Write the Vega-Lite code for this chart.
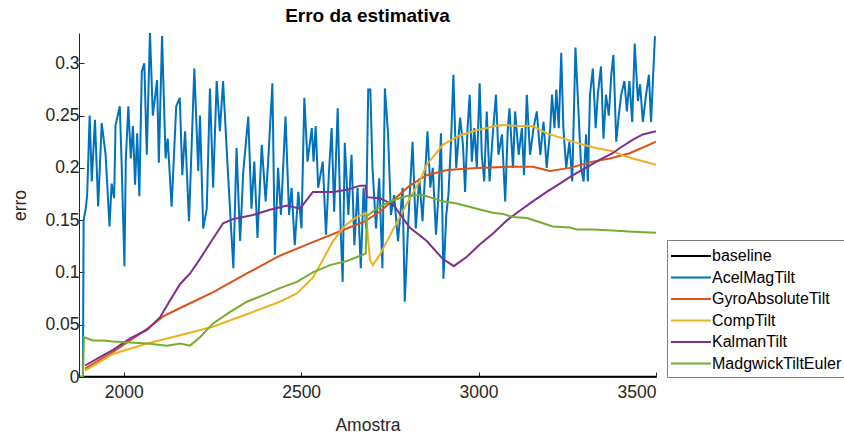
{
  "$schema": "https://vega.github.io/schema/vega-lite/v6.json",
  "width": 577,
  "height": 344,
  "autosize": {"type": "none"},
  "padding": {"left": 79, "top": 33, "right": 188, "bottom": 60},
  "background": "#ffffff",
  "title": {"text": "Erro da estimativa", "fontSize": 19, "fontWeight": "bold", "font": "Liberation Sans", "color": "#000000", "offset": 7, "anchor": "middle"},
  "datasets": {
    "baseline": [{"x": 1874, "y": 0}, {"x": 3500, "y": 0}],
    "acel": [
      {"x":1885,"y":0},{"x":1887,"y":0.15},{"x":1893,"y":0.161},{"x":1897,"y":0.174},{"x":1904,"y":0.25},{"x":1910,"y":0.187},{"x":1919,"y":0.246},{"x":1928,"y":0.163},{"x":1938,"y":0.243},{"x":1949,"y":0.2125},{"x":1960,"y":0.144},{"x":1966,"y":0.185},{"x":1973,"y":0.171},{"x":1977,"y":0.241},{"x":1989,"y":0.259},{"x":1994,"y":0.206},{"x":2002,"y":0.106},{"x":2006,"y":0.209},{"x":2013,"y":0.259},{"x":2020,"y":0.209},{"x":2026,"y":0.24},{"x":2032,"y":0.184},{"x":2038,"y":0.233},{"x":2044,"y":0.173},{"x":2051,"y":0.292},{"x":2058,"y":0.30},{"x":2065,"y":0.2125},{"x":2074,"y":0.33},{"x":2082,"y":0.25},{"x":2094,"y":0.284},{"x":2099,"y":0.205},{"x":2108,"y":0.326},{"x":2118,"y":0.209},{"x":2124,"y":0.228},{"x":2135,"y":0.163},{"x":2148,"y":0.259},{"x":2158,"y":0.267},{"x":2165,"y":0.193},{"x":2173,"y":0.235},{"x":2184,"y":0.149},{"x":2199,"y":0.295},{"x":2210,"y":0.197},{"x":2215,"y":0.25},{"x":2224,"y":0.142},{"x":2234,"y":0.161},{"x":2243,"y":0.276},{"x":2252,"y":0.181},{"x":2262,"y":0.283},{"x":2271,"y":0.235},{"x":2280,"y":0.283},{"x":2293,"y":0.20},{"x":2309,"y":0.104},{"x":2318,"y":0.219},{"x":2328,"y":0.13},{"x":2337,"y":0.197},{"x":2351,"y":0.249},{"x":2360,"y":0.161},{"x":2368,"y":0.206},{"x":2377,"y":0.133},{"x":2389,"y":0.222},{"x":2400,"y":0.168},{"x":2407,"y":0.206},{"x":2419,"y":0.281},{"x":2426,"y":0.117},{"x":2435,"y":0.20},{"x":2443,"y":0.155},{"x":2456,"y":0.249},{"x":2466,"y":0.155},{"x":2473,"y":0.181},{"x":2482,"y":0.126},{"x":2492,"y":0.177},{"x":2501,"y":0.142},{"x":2509,"y":0.267},{"x":2518,"y":0.206},{"x":2530,"y":0.238},{"x":2535,"y":0.206},{"x":2541,"y":0.24},{"x":2548,"y":0.181},{"x":2561,"y":0.206},{"x":2570,"y":0.136},{"x":2579,"y":0.20},{"x":2586,"y":0.238},{"x":2593,"y":0.158},{"x":2603,"y":0.257},{"x":2612,"y":0.136},{"x":2617,"y":0.091},{"x":2623,"y":0.224},{"x":2633,"y":0.155},{"x":2642,"y":0.2125},{"x":2650,"y":0.126},{"x":2659,"y":0.181},{"x":2668,"y":0.104},{"x":2676,"y":0.181},{"x":2683,"y":0.142},{"x":2689,"y":0.275},{"x":2695,"y":0.275},{"x":2701,"y":0.20},{"x":2711,"y":0.142},{"x":2720,"y":0.19},{"x":2729,"y":0.104},{"x":2736,"y":0.276},{"x":2745,"y":0.232},{"x":2753,"y":0.155},{"x":2762,"y":0.174},{"x":2773,"y":0.13},{"x":2786,"y":0.181},{"x":2792,"y":0.072},{"x":2802,"y":0.149},{"x":2814,"y":0.225},{"x":2823,"y":0.142},{"x":2833,"y":0.19},{"x":2842,"y":0.149},{"x":2856,"y":0.235},{"x":2864,"y":0.181},{"x":2871,"y":0.20},{"x":2880,"y":0.136},{"x":2887,"y":0.174},{"x":2894,"y":0.233},{"x":2901,"y":0.094},{"x":2909,"y":0.155},{"x":2915,"y":0.174},{"x":2922,"y":0.222},{"x":2929,"y":0.289},{"x":2937,"y":0.20},{"x":2948,"y":0.248},{"x":2956,"y":0.222},{"x":2962,"y":0.177},{"x":2969,"y":0.238},{"x":2975,"y":0.27},{"x":2981,"y":0.206},{"x":2988,"y":0.238},{"x":2995,"y":0.20},{"x":3003,"y":0.281},{"x":3009,"y":0.2125},{"x":3016,"y":0.187},{"x":3023,"y":0.254},{"x":3031,"y":0.187},{"x":3040,"y":0.232},{"x":3049,"y":0.27},{"x":3056,"y":0.2125},{"x":3066,"y":0.232},{"x":3075,"y":0.168},{"x":3082,"y":0.235},{"x":3087,"y":0.257},{"x":3097,"y":0.20},{"x":3103,"y":0.254},{"x":3113,"y":0.2125},{"x":3122,"y":0.238},{"x":3128,"y":0.193},{"x":3136,"y":0.27},{"x":3145,"y":0.2125},{"x":3155,"y":0.238},{"x":3164,"y":0.254},{"x":3174,"y":0.2125},{"x":3183,"y":0.244},{"x":3192,"y":0.20},{"x":3202,"y":0.238},{"x":3207,"y":0.27},{"x":3214,"y":0.238},{"x":3219,"y":0.275},{"x":3226,"y":0.238},{"x":3233,"y":0.31},{"x":3239,"y":0.238},{"x":3247,"y":0.20},{"x":3256,"y":0.225},{"x":3264,"y":0.187},{"x":3273,"y":0.315},{"x":3283,"y":0.244},{"x":3289,"y":0.20},{"x":3296,"y":0.187},{"x":3303,"y":0.232},{"x":3308,"y":0.187},{"x":3314,"y":0.27},{"x":3322,"y":0.295},{"x":3330,"y":0.238},{"x":3336,"y":0.27},{"x":3345,"y":0.297},{"x":3352,"y":0.228},{"x":3359,"y":0.27},{"x":3367,"y":0.25},{"x":3374,"y":0.289},{"x":3380,"y":0.308},{"x":3388,"y":0.225},{"x":3395,"y":0.25},{"x":3402,"y":0.27},{"x":3411,"y":0.283},{"x":3418,"y":0.254},{"x":3425,"y":0.283},{"x":3433,"y":0.244},{"x":3440,"y":0.319},{"x":3449,"y":0.264},{"x":3455,"y":0.28},{"x":3463,"y":0.244},{"x":3472,"y":0.27},{"x":3480,"y":0.289},{"x":3486,"y":0.244},{"x":3497,"y":0.326}
    ],
    "gyro": [
      {"x":1891,"y":0.008},{"x":1970,"y":0.024},{"x":2066,"y":0.046},{"x":2111,"y":0.058},{"x":2159,"y":0.066},{"x":2251,"y":0.081},{"x":2347,"y":0.099},{"x":2440,"y":0.116},{"x":2533,"y":0.129},{"x":2629,"y":0.142},{"x":2674,"y":0.148},{"x":2722,"y":0.158},{"x":2759,"y":0.169},{"x":2806,"y":0.183},{"x":2854,"y":0.193},{"x":2911,"y":0.198},{"x":2995,"y":0.200},{"x":3088,"y":0.201},{"x":3153,"y":0.201},{"x":3201,"y":0.197},{"x":3257,"y":0.200},{"x":3322,"y":0.206},{"x":3370,"y":0.209},{"x":3426,"y":0.214},{"x":3500,"y":0.225}
    ],
    "comp": [
      {"x":1891,"y":0.006},{"x":1970,"y":0.022},{"x":2066,"y":0.032},{"x":2159,"y":0.040},{"x":2251,"y":0.048},{"x":2347,"y":0.060},{"x":2440,"y":0.072},{"x":2488,"y":0.080},{"x":2533,"y":0.095},{"x":2561,"y":0.112},{"x":2590,"y":0.130},{"x":2624,"y":0.145},{"x":2652,"y":0.152},{"x":2682,"y":0.157},{"x":2694,"y":0.112},{"x":2702,"y":0.107},{"x":2722,"y":0.117},{"x":2750,"y":0.135},{"x":2778,"y":0.153},{"x":2806,"y":0.171},{"x":2835,"y":0.188},{"x":2854,"y":0.203},{"x":2899,"y":0.222},{"x":2947,"y":0.231},{"x":2995,"y":0.236},{"x":3060,"y":0.241},{"x":3116,"y":0.240},{"x":3153,"y":0.240},{"x":3192,"y":0.233},{"x":3249,"y":0.227},{"x":3285,"y":0.223},{"x":3330,"y":0.219},{"x":3378,"y":0.216},{"x":3406,"y":0.212},{"x":3435,"y":0.209},{"x":3500,"y":0.203}
    ],
    "kalman": [
      {"x":1891,"y":0.011},{"x":1933,"y":0.019},{"x":1970,"y":0.026},{"x":2018,"y":0.037},{"x":2066,"y":0.045},{"x":2102,"y":0.057},{"x":2130,"y":0.073},{"x":2159,"y":0.089},{"x":2187,"y":0.099},{"x":2215,"y":0.113},{"x":2251,"y":0.132},{"x":2280,"y":0.147},{"x":2308,"y":0.151},{"x":2364,"y":0.155},{"x":2412,"y":0.160},{"x":2460,"y":0.164},{"x":2497,"y":0.161},{"x":2533,"y":0.177},{"x":2590,"y":0.177},{"x":2629,"y":0.179},{"x":2666,"y":0.183},{"x":2682,"y":0.183},{"x":2685,"y":0.172},{"x":2722,"y":0.171},{"x":2759,"y":0.165},{"x":2806,"y":0.143},{"x":2854,"y":0.130},{"x":2899,"y":0.113},{"x":2930,"y":0.106},{"x":2967,"y":0.115},{"x":3004,"y":0.127},{"x":3040,"y":0.137},{"x":3080,"y":0.150},{"x":3116,"y":0.159},{"x":3153,"y":0.168},{"x":3192,"y":0.177},{"x":3229,"y":0.185},{"x":3266,"y":0.193},{"x":3302,"y":0.200},{"x":3342,"y":0.208},{"x":3378,"y":0.214},{"x":3398,"y":0.219},{"x":3435,"y":0.227},{"x":3463,"y":0.232},{"x":3500,"y":0.235}
    ],
    "madgwick": [
      {"x":1876,"y":0},{"x":1885,"y":0},{"x":1888,"y":0.038},{"x":1913,"y":0.035},{"x":1942,"y":0.035},{"x":1970,"y":0.034},{"x":2018,"y":0.033},{"x":2066,"y":0.032},{"x":2122,"y":0.030},{"x":2159,"y":0.032},{"x":2187,"y":0.030},{"x":2215,"y":0.038},{"x":2251,"y":0.051},{"x":2299,"y":0.062},{"x":2347,"y":0.072},{"x":2392,"y":0.078},{"x":2440,"y":0.085},{"x":2488,"y":0.091},{"x":2533,"y":0.100},{"x":2581,"y":0.107},{"x":2629,"y":0.111},{"x":2682,"y":0.118},{"x":2685,"y":0.154},{"x":2722,"y":0.163},{"x":2759,"y":0.169},{"x":2798,"y":0.173},{"x":2843,"y":0.174},{"x":2899,"y":0.168},{"x":2939,"y":0.166},{"x":2995,"y":0.161},{"x":3040,"y":0.157},{"x":3068,"y":0.156},{"x":3097,"y":0.153},{"x":3136,"y":0.152},{"x":3173,"y":0.148},{"x":3209,"y":0.144},{"x":3257,"y":0.143},{"x":3277,"y":0.141},{"x":3322,"y":0.141},{"x":3378,"y":0.140},{"x":3435,"y":0.139},{"x":3500,"y":0.138}
    ]
  },
  "encoding": {
    "x": {"field": "x", "type": "quantitative", "scale": {"domain": [1874, 3500], "nice": false, "zero": false}, "axis": {"values": [2000, 2500, 3000, 3500], "format": "d", "title": "Amostra"}},
    "y": {"field": "y", "type": "quantitative", "scale": {"domain": [0, 0.329], "nice": false}, "axis": {"values": [0, 0.05, 0.1, 0.15, 0.2, 0.25, 0.3], "format": "~g", "title": "erro"}},
    "color": {"field": "s", "type": "nominal", "scale": {"domain": ["baseline", "AcelMagTilt", "GyroAbsoluteTilt", "CompTilt", "KalmanTilt", "MadgwickTiltEuler"], "range": ["#000000", "#0072BD", "#D95319", "#EDB120", "#7E2F8E", "#77AC30"]}, "legend": {"title": null}}
  },
  "layer": [
    {"data": {"name": "baseline"}, "transform": [{"calculate": "'baseline'", "as": "s"}], "mark": {"type": "line", "strokeWidth": 2.5, "clip": true}},
    {"data": {"name": "acel"}, "transform": [{"calculate": "'AcelMagTilt'", "as": "s"}], "mark": {"type": "line", "strokeWidth": 2, "clip": true}},
    {"data": {"name": "gyro"}, "transform": [{"calculate": "'GyroAbsoluteTilt'", "as": "s"}], "mark": {"type": "line", "strokeWidth": 2, "clip": true}},
    {"data": {"name": "comp"}, "transform": [{"calculate": "'CompTilt'", "as": "s"}], "mark": {"type": "line", "strokeWidth": 2, "clip": true}},
    {"data": {"name": "kalman"}, "transform": [{"calculate": "'KalmanTilt'", "as": "s"}], "mark": {"type": "line", "strokeWidth": 2, "clip": true}},
    {"data": {"name": "madgwick"}, "transform": [{"calculate": "'MadgwickTiltEuler'", "as": "s"}], "mark": {"type": "line", "strokeWidth": 2, "clip": true}}
  ],
  "config": {
    "view": {"stroke": null},
    "font": "Liberation Sans",
    "axis": {"grid": false, "domainColor": "#262626", "tickColor": "#262626", "labelColor": "#262626", "titleColor": "#262626", "labelFont": "Liberation Sans", "titleFont": "Liberation Sans", "labelFontSize": 17.5, "titleFontSize": 17.5, "titleFontWeight": "normal", "tickSize": -5, "labelPadding": 5},
    "axisX": {"labelPadding": 11, "titlePadding": 16},
    "axisY": {"titlePadding": 15},
    "legend": {"orient": "none", "legendX": 588, "legendY": 207, "symbolType": "M-2,0L2,0", "symbolSize": 400, "symbolStrokeWidth": 2, "symbolOffset": 8, "labelFontSize": 16, "labelFont": "Liberation Sans", "labelColor": "#000000", "strokeColor": "#7f7f7f", "fillColor": "#ffffff", "padding": 5, "labelOffset": 10, "rowPadding": 2.5}
  }
}
